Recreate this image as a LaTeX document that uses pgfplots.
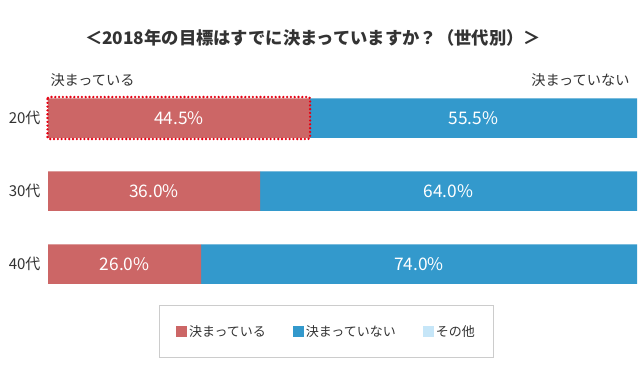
\documentclass[border=0pt]{standalone}
\usepackage{pgfplots}
\pgfplotsset{compat=1.18}
\usepackage{fontspec}
\setmainfont{Noto Sans CJK JP}
\definecolor{cRed}{HTML}{CC6666}
\definecolor{cBlue}{HTML}{3399CC}
\definecolor{cLight}{HTML}{C6E6F8}
\definecolor{cText}{HTML}{333333}
\definecolor{cDot}{HTML}{E60012}
\definecolor{cBox}{HTML}{CCCCCC}
\begin{document}
\begin{tikzpicture}[x=1pt,y=1pt]
\useasboundingbox[fill=white] (0,0) rectangle (640,389);
\node[font=\fontsize{17.3}{19}\selectfont\bfseries, text=cText] at (313,351) {＜2018年の目標はすでに決まっていますか？（世代別）＞};
\node[font=\fontsize{14.2}{16}\selectfont, text=cText, anchor=west] at (47,309) {決まっている};
\node[font=\fontsize{14.2}{16}\selectfont, text=cText, anchor=east] at (633,309) {決まっていない};
\begin{axis}[
  at={(48pt,88.5pt)}, anchor=south west,
  scale only axis, width=589pt, height=219pt,
  xbar stacked, bar width=39.5pt,
  xmin=0, xmax=100, ymin=-0.5, ymax=2.5, y dir=reverse,
  ytick={0,1,2}, yticklabels={20代,30代,40代},
  yticklabel style={font=\fontsize{15}{17}\selectfont, text=cText, xshift=-4pt},
  hide x axis, y axis line style={draw=none}, ytick style={draw=none},
  clip=false,
  legend columns=3,
  legend style={at={(0.4728,-0.1416)}, anchor=center, draw=cBox, line width=1pt,
    font=\fontsize{13}{15}\selectfont, text=cText,
    inner xsep=17pt, inner ysep=17.5pt,
    /tikz/every even column/.append style={column sep=25pt}},
  legend image code/.code={\fill[#1,draw=none] (0pt,-5.5pt) rectangle (11pt,5.5pt);},
  after end axis/.code={
    \draw[cDot, line width=2.6pt, dash pattern=on 0pt off 3.8pt, line cap=round, rounded corners=2pt]
      ([shift={(-0.5pt,21pt)}]axis cs:0,0) rectangle ([shift={(0pt,-21pt)}]axis cs:44.5,0);
    \node[text=white, font=\fontsize{17.3}{19}\selectfont] at (axis cs:22.25,0) {44.5\%};
    \node[text=white, font=\fontsize{17.3}{19}\selectfont] at (axis cs:18,1) {36.0\%};
    \node[text=white, font=\fontsize{17.3}{19}\selectfont] at (axis cs:13,2) {26.0\%};
    \node[text=white, font=\fontsize{17.3}{19}\selectfont] at (axis cs:72.25,0) {55.5\%};
    \node[text=white, font=\fontsize{17.3}{19}\selectfont] at (axis cs:68,1) {64.0\%};
    \node[text=white, font=\fontsize{17.3}{19}\selectfont] at (axis cs:63,2) {74.0\%};
  },
]
\addplot[fill=cRed, draw=none] coordinates {(44.5,0) (36.0,1) (26.0,2)};
\addplot[fill=cBlue, draw=none] coordinates {(55.5,0) (64.0,1) (74.0,2)};
\addplot[fill=cLight, draw=none] coordinates {(0,0) (0,1) (0,2)};
\legend{決まっている,決まっていない,その他}
\end{axis}
\end{tikzpicture}
\end{document}
